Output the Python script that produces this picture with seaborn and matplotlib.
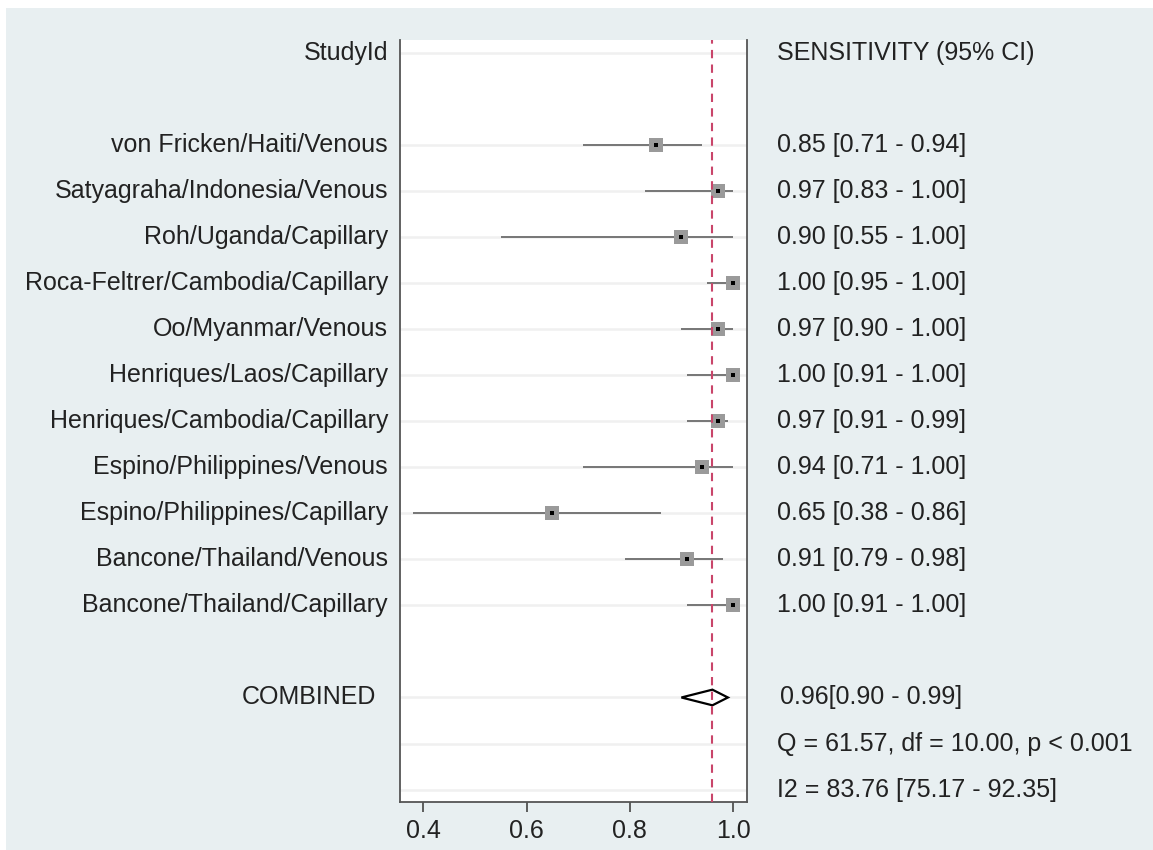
import numpy as np
import pandas as pd
import matplotlib
matplotlib.use("Agg")
import matplotlib.pyplot as plt
import seaborn as sns
from matplotlib.patches import Rectangle, Polygon

# donnees
etudes = ['von Fricken/Haiti/Venous', 'Satyagraha/Indonesia/Venous', 'Roh/Uganda/Capillary',
          'Roca-Feltrer/Cambodia/Capillary', 'Oo/Myanmar/Venous', 'Henriques/Laos/Capillary',
          'Henriques/Cambodia/Capillary', 'Espino/Philippines/Venous', 'Espino/Philippines/Capillary',
          'Bancone/Thailand/Venous', 'Bancone/Thailand/Capillary']
sens = [0.85, 0.97, 0.90, 1.00, 0.97, 1.00, 0.97, 0.94, 0.65, 0.91, 1.00]
ci_bas = [0.71, 0.83, 0.55, 0.95, 0.90, 0.91, 0.91, 0.71, 0.38, 0.79, 0.91]
ci_haut = [0.94, 1.00, 1.00, 1.00, 1.00, 1.00, 0.99, 1.00, 0.86, 0.98, 1.00]
combine = 0.96
combine_bas = 0.90
combine_haut = 0.99
q_texte = 'Q = 61.57, df = 10.00, p < 0.001'
i2_texte = 'I2 = 83.76 [75.17 - 92.35]'
xticks = [0.4, 0.6, 0.8, 1.0]

df = pd.DataFrame({'etude': etudes, 'sens': sens, 'bas': ci_bas, 'haut': ci_haut})
df['rang'] = np.arange(2, 2 + len(df))
rang_comb = 14

sns.set_style('white')
plt.rcParams['font.family'] = ['Liberation Sans', 'DejaVu Sans']

fig = plt.figure(figsize=(11.53, 8.5), dpi=100)
fig.patch.set_facecolor('white')
fig.patches.append(Rectangle((6 / 1153, 0), 1, 1 - 8 / 850, transform=fig.transFigure,
                             facecolor='#e8eff1', edgecolor='none', zorder=-10))

ax = fig.add_axes([400 / 1153, 1 - 802 / 850, 347 / 1153, 762 / 850])
ax.set_facecolor('white')

# lignes de grille
for r in [0] + list(df['rang']) + [rang_comb, 15, 16]:
    ax.axhline(r, color='#f0f0f0', lw=1.8, zorder=0)

# intervalles de confiance
ax.hlines(df['rang'], df['bas'], df['haut'], color='#767676', lw=1.4, zorder=2)
sns.scatterplot(data=df, x='sens', y='rang', marker='s', s=90, color='#9a9a9a',
                edgecolor='#9a9a9a', linewidth=0, ax=ax, zorder=3, legend=False)
sns.scatterplot(data=df, x='sens', y='rang', marker='s', s=8, color='black',
                linewidth=0, ax=ax, zorder=4, legend=False)

# losange combine
h = 0.17
ax.add_patch(Polygon([(combine_bas, rang_comb), (combine, rang_comb - h),
                      (combine_haut, rang_comb), (combine, rang_comb + h)],
                     closed=True, facecolor='white', edgecolor='black', lw=1.6, zorder=3))

ax.axvline(combine, color='#c9456a', ls=(0, (4, 3)), lw=1.5, zorder=5)

ax.set_xlim(0.355, 1.027)
ax.set_ylim(16.27, -0.28)
ax.set_xticks(xticks)
ax.set_xticklabels([f'{t:.1f}' for t in xticks], fontsize=18, color='#222222')
ax.set_yticks([])
ax.set_xlabel('')
ax.set_ylabel('')
ax.tick_params(axis='x', direction='out', length=7, width=1.2, color='#444444', pad=5, bottom=True)
for s in ['left', 'right', 'bottom']:
    ax.spines[s].set_color('#555555')
    ax.spines[s].set_linewidth(1.3)
ax.spines['top'].set_visible(False)

tr = ax.get_yaxis_transform()
xg = (388 - 400) / 347
xd = (777 - 400) / 347
fs = 18
col = '#222222'
ax.text(xg, 0, 'StudyId', transform=tr, ha='right', va='center', fontsize=fs, color=col)
ax.text(xd, 0, 'SENSITIVITY (95% CI)', transform=tr, ha='left', va='center', fontsize=fs, color=col)
for _, row in df.iterrows():
    ax.text(xg, row['rang'], row['etude'], transform=tr, ha='right', va='center', fontsize=fs, color=col)
    ax.text(xd, row['rang'], f"{row['sens']:.2f} [{row['bas']:.2f} - {row['haut']:.2f}]",
            transform=tr, ha='left', va='center', fontsize=fs, color=col)
ax.text((376 - 400) / 347, rang_comb, 'COMBINED', transform=tr, ha='right', va='center', fontsize=fs, color=col)
ax.text((780 - 400) / 347, rang_comb, f'{combine:.2f}[{combine_bas:.2f} - {combine_haut:.2f}]',
        transform=tr, ha='left', va='center', fontsize=fs, color=col)
ax.text(xd, 15, q_texte, transform=tr, ha='left', va='center', fontsize=fs, color=col)
ax.text(xd, 16, i2_texte, transform=tr, ha='left', va='center', fontsize=fs, color=col)

fig.savefig('out.png', dpi=100, facecolor=fig.get_facecolor())
